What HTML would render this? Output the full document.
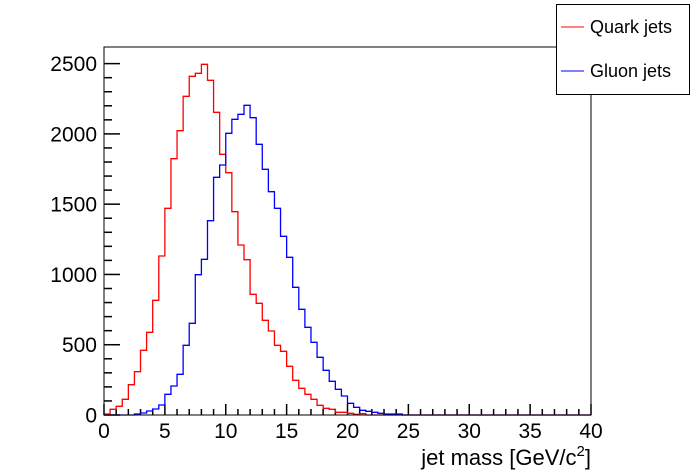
<!DOCTYPE html>
<html><head><style>html,body{margin:0;padding:0;background:#fff}svg{display:block}text{font-family:"Liberation Sans",sans-serif;}</style></head>
<body>
<svg id="s" width="696" height="472" xmlns="http://www.w3.org/2000/svg">
<rect width="696" height="472" fill="#fff"/>
<g id="g"></g>
<rect x="104" y="47" width="487" height="368" fill="none" stroke="#000" stroke-width="1"/>
<rect x="556.5" y="4.5" width="133" height="90" fill="#fff" stroke="#000" stroke-width="1"/>
<line x1="561" y1="27" x2="584" y2="27" stroke="#f00" stroke-width="1"/>
<line x1="561" y1="71" x2="584" y2="71" stroke="#00f" stroke-width="1"/>
<text x="590" y="33" font-size="18">Quark jets</text>
<text x="590" y="77" font-size="18">Gluon jets</text>
<text x="591" y="465" font-size="22" text-anchor="end">jet mass [GeV/c<tspan font-size="15" dy="-9">2</tspan><tspan dy="9">]</tspan></text>
</svg>
<script>
var g=document.getElementById('g'),h='';
var x0=104,xs=12.175,y0=415,ys=0.14055;
for(var v=0;v<=2500;v+=100){var y=y0-v*ys,L=(v%500==0)?16:8;h+='<line x1="104" y1="'+y+'" x2="'+(104+L)+'" y2="'+y+'" stroke="#000" stroke-width="1.5"/>';
if(v%500==0)h+='<text x="97" y="'+(y+7.5)+'" font-size="21" text-anchor="end">'+v+'</text>';}
for(var u=0;u<=40;u++){var x=x0+u*xs,L=(u%5==0)?11:6;h+='<line x1="'+x+'" y1="415" x2="'+x+'" y2="'+(415-L)+'" stroke="#000" stroke-width="1.5"/>';
if(u%5==0)h+='<text x="'+x+'" y="438" font-size="21" text-anchor="middle">'+u+'</text>';}
var red=[414,409.3,406.3,399.3,384.7,371.7,350.3,332.3,300.3,256,208.3,158.7,130.7,96.3,76.3,73.3,64.3,80.3,112.3,154.3,172.7,211.7,245,259.7,294.3,303.3,320.3,331,345.3,351.3,366.3,380.3,388.3,394.3,399.3,405.3,408.3,409.3,412.3,412.3,413.3,414.3,413.6];
var blue=[415,415,415,415,415,414,413,411,409,405,394.3,386,374.3,345.3,323.3,274.7,259.3,220.7,177.3,165,133.3,119.3,114.3,105.3,117.7,144.3,169.3,191.7,208.3,236.3,257.3,287.3,309.3,327.3,342.3,357.3,370.3,381.3,389.3,396,403.3,407.3,410.3,411.3,412.3,413.3,414,414,414];
function path(a,c){var w=xs/2,d='M'+x0+' 415';for(var i=0;i<80;i++){var y=i<a.length?a[i]:415;d+=' V'+y+' H'+(x0+(i+1)*w).toFixed(2);}d+=' V415';return '<path d="'+d+'" fill="none" stroke="'+c+'" stroke-width="1.3"/>';}
h+=path(red,'#f00')+path(blue,'#00f');
g.innerHTML=h;
</script>
</body></html>
